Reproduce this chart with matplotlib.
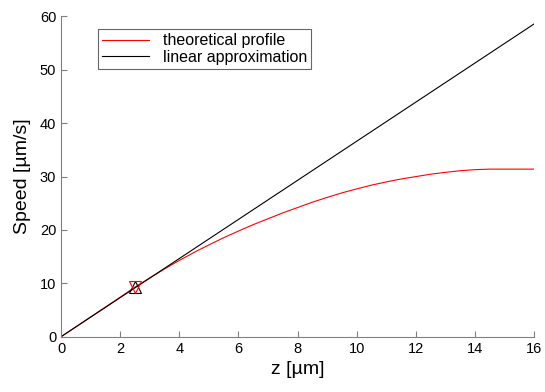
import numpy as np
import matplotlib.pyplot as plt

plt.rcParams['font.family'] = ['Liberation Sans', 'DejaVu Sans']

# Theoretical velocity profile
z_profile = [0, 1, 2, 2.5, 3, 3.5, 4, 4.5, 5, 5.5, 6, 6.5, 7, 7.5, 8, 8.5,
             9, 9.5, 10, 10.5, 11, 11.5, 12, 12.5, 13, 13.5, 14, 14.5, 15, 16]
v_profile = [0, 3.7, 7.4, 9.3, 11.0, 12.7, 14.3, 15.8, 17.2, 18.55, 19.8,
             21.0, 22.1, 23.2, 24.2, 25.2, 26.1, 26.95, 27.7, 28.4, 29.0,
             29.55, 30.0, 30.45, 30.8, 31.1, 31.3, 31.4, 31.4, 31.4]

# Linear approximation (end points)
z_linear = [0, 16]
v_linear = [0, 58.6]

# Matching point
z_match = [2.5]
v_match = [9.3]

xticks = [0, 2, 4, 6, 8, 10, 12, 14, 16]
yticks = [0, 10, 20, 30, 40, 50, 60]


def plot_profile():
    fig = plt.figure(figsize=(5.45, 3.92), dpi=100)
    ax = fig.add_axes([0.112, 0.141, 0.868, 0.817])

    ax.plot(z_profile, v_profile, color='red', lw=0.8,
            label='theoretical profile')
    ax.plot(z_linear, v_linear, color='black', lw=0.8,
            label='linear approximation')
    ax.plot(z_match, v_match, marker='^', ms=8, mfc='none', mec='black',
            mew=0.8, ls='none')
    ax.plot(z_match, v_match, marker='v', ms=8, mfc='none', mec='red',
            mew=0.8, ls='none')

    ax.set_xlim(0, 16)
    ax.set_ylim(0, 60)
    ax.set_xticks(xticks)
    ax.set_yticks(yticks)

    for loc in ['top', 'right']:
        ax.spines[loc].set_visible(False)
    for loc in ['left', 'bottom']:
        ax.spines[loc].set_color('#808080')
        ax.spines[loc].set_linewidth(0.8)
    ax.tick_params(direction='in', length=4, color='#808080',
                   labelsize=10.5, width=0.8)

    ax.set_xlabel('z [µm]', fontsize=14, labelpad=4)
    ax.set_ylabel('Speed [µm/s]', fontsize=14, labelpad=6)

    leg = ax.legend(loc='upper left', bbox_to_anchor=(0.062, 0.985),
                    fontsize=11.5, frameon=True, fancybox=False,
                    edgecolor='#404040', handlelength=2.9,
                    borderpad=0.25, labelspacing=0.1, handletextpad=0.9)
    leg.get_frame().set_linewidth(0.8)

    fig.savefig('out.png', dpi=100)


if __name__ == "__main__":
    plot_profile()
